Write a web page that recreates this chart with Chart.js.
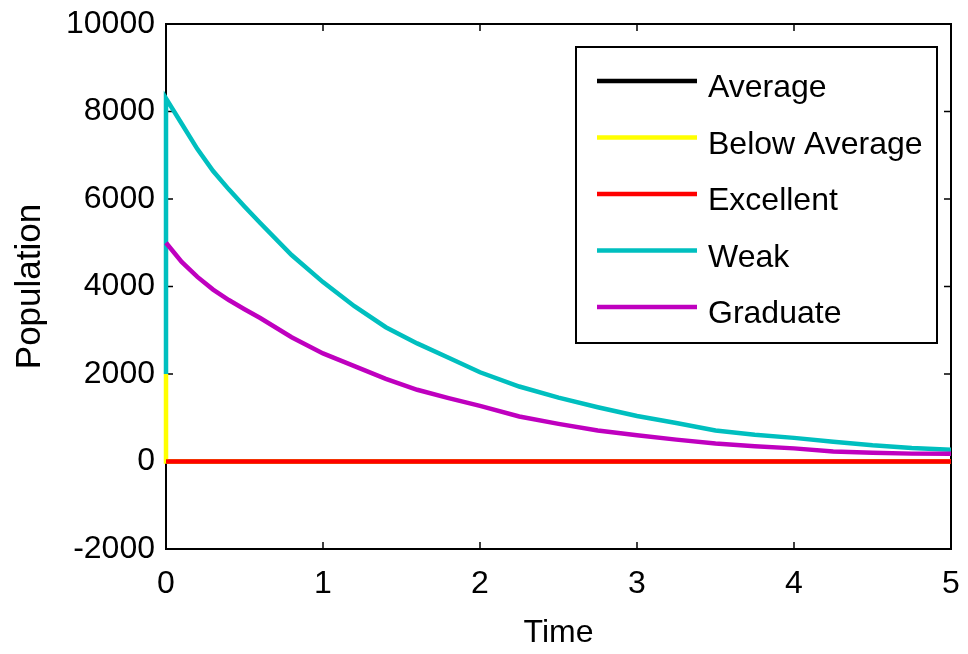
<!DOCTYPE html>
<html>
<head>
<meta charset="utf-8">
<script src="https://cdn.jsdelivr.net/npm/chart.js@4"></script>
<style>
  body { margin: 0; background: #fff; }
  #wrap { width: 968px; height: 654px; }
</style>
</head>
<body>
<div id="wrap"><canvas id="chart" width="968" height="654"></canvas></div>
<script>
// values (time in years, population)
var time = [0, 0, 0.1, 0.2, 0.3, 0.4, 0.5, 0.6, 0.8, 1.0, 1.2, 1.4, 1.6, 1.8, 2.0,
  2.25, 2.5, 2.75, 3.0, 3.25, 3.5, 3.75, 4.0, 4.25, 4.5, 4.75, 5.0];

var average = [0, 0, 0, 0, 0, 0, 0, 0, 0, 0, 0, 0, 0, 0, 0,
  0, 0, 0, 0, 0, 0, 0, 0, 0, 0, 0, 0];
var belowAverage = [2000, 0, 0, 0, 0, 0, 0, 0, 0, 0, 0, 0, 0, 0, 0,
  0, 0, 0, 0, 0, 0, 0, 0, 0, 0, 0, 0];
var excellent = [0, 0, 0, 0, 0, 0, 0, 0, 0, 0, 0, 0, 0, 0, 0,
  0, 0, 0, 0, 0, 0, 0, 0, 0, 0, 0, 0];
var weak = [2000, 8300, 7720, 7140, 6640, 6220, 5830, 5450, 4720, 4100, 3550, 3070, 2700, 2370, 2040,
  1714, 1460, 1240, 1040, 880, 710, 612, 540, 450, 370, 310, 270];
var graduate = [5000, 5000, 4560, 4220, 3930, 3690, 3480, 3280, 2840, 2470, 2180, 1890, 1640, 1450, 1270,
  1030, 860, 710, 600, 500, 410, 350, 300, 230, 200, 180, 175];

var seriesNames = ['Average', 'Below Average', 'Excellent', 'Weak', 'Graduate'];
var seriesColors = ['#000000', '#ffff00', '#ff0000', '#00bfbf', '#bf00bf'];
var seriesValues = [average, belowAverage, excellent, weak, graduate];

var yTicks = [-2000, 0, 2000, 4000, 6000, 8000, 10000];
var xTicks = [0, 1, 2, 3, 4, 5];

var FONT = { family: 'Liberation Sans, Arial, sans-serif', size: 32 };

function toPoints(values) {
  return values.map(function (v, i) { return { x: time[i], y: v }; });
}

var datasets = seriesValues.map(function (vals, i) {
  return {
    label: seriesNames[i],
    data: toPoints(vals),
    borderColor: seriesColors[i],
    backgroundColor: seriesColors[i],
    borderWidth: 4.5,
    pointRadius: 0,
    tension: 0,
    fill: false,
    clip: { left: 4, right: 0, top: 0, bottom: 0 },
    order: seriesNames.length - i  // later series drawn on top, like matlab
  };
});

// box around the plot with inward ticks on all four sides (under the lines)
var matlabFrame = {
  id: 'matlabFrame',
  beforeDatasetsDraw: function (chart) {
    var ctx = chart.ctx;
    var a = chart.chartArea;
    var xs = chart.scales.x, ys = chart.scales.y;
    var tl = 7;
    ctx.save();
    ctx.strokeStyle = '#000';
    ctx.lineWidth = 1.5;
    ctx.beginPath();
    xTicks.forEach(function (t) {
      var px = xs.getPixelForValue(t);
      ctx.moveTo(px, a.bottom); ctx.lineTo(px, a.bottom - tl);
      ctx.moveTo(px, a.top); ctx.lineTo(px, a.top + tl);
    });
    yTicks.forEach(function (t) {
      var py = ys.getPixelForValue(t);
      ctx.moveTo(a.left, py); ctx.lineTo(a.left + tl, py);
      ctx.moveTo(a.right, py); ctx.lineTo(a.right - tl, py);
    });
    ctx.stroke();
    ctx.lineWidth = 2;
    ctx.strokeRect(a.left, a.top, a.right - a.left, a.bottom - a.top);
    ctx.restore();
  },
  // legend box in the top right corner
  afterDatasetsDraw: function (chart) {
    var ctx = chart.ctx;
    var a = chart.chartArea;
    var bx = a.right - 375, by = a.top + 23, bw = 361, bh = 296;
    ctx.save();
    ctx.fillStyle = '#fff';
    ctx.fillRect(bx, by, bw, bh);
    ctx.strokeStyle = '#000';
    ctx.lineWidth = 2;
    ctx.strokeRect(bx, by, bw, bh);
    ctx.font = FONT.size + 'px ' + FONT.family;
    ctx.textAlign = 'left';
    ctx.textBaseline = 'alphabetic';
    chart.data.datasets.forEach(function (ds, i) {
      var ly = by + 34 + i * 56.5;
      ctx.strokeStyle = ds.borderColor;
      ctx.lineWidth = 4.5;
      ctx.beginPath();
      ctx.moveTo(bx + 21, ly);
      ctx.lineTo(bx + 121, ly);
      ctx.stroke();
      ctx.fillStyle = '#000';
      ctx.fillText(ds.label, bx + 132, ly + 16);
    });
    ctx.restore();
  }
};

new Chart(document.getElementById('chart'), {
  type: 'line',
  data: { datasets: datasets },
  options: {
    responsive: false,
    animation: false,
    layout: { padding: { top: 24, right: 17, left: 0, bottom: 0 } },
    plugins: {
      legend: { display: false },
      tooltip: { enabled: false }
    },
    scales: {
      x: {
        type: 'linear',
        min: 0,
        max: 5,
        afterBuildTicks: function (scale) {
          scale.ticks = xTicks.map(function (v) { return { value: v }; });
        },
        afterFit: function (scale) {
          scale.height = 105;
          scale.paddingLeft = 0;
          scale.paddingRight = 0;
        },
        grid: { display: false, drawTicks: false },
        border: { display: false },
        ticks: {
          color: '#000',
          font: FONT,
          padding: 16,
          maxRotation: 0,
          callback: function (v) { return String(v); }
        },
        title: {
          display: true,
          text: 'Time',
          color: '#000',
          font: FONT,
          padding: { top: 0, bottom: 2 }
        }
      },
      y: {
        type: 'linear',
        min: -2000,
        max: 10000,
        afterBuildTicks: function (scale) {
          scale.ticks = yTicks.map(function (v) { return { value: v }; });
        },
        afterFit: function (scale) {
          scale.width = 166;
          scale.paddingTop = 0;
          scale.paddingBottom = 0;
        },
        grid: { display: false, drawTicks: false },
        border: { display: false },
        ticks: {
          color: '#000',
          font: FONT,
          padding: 11,
          callback: function (v) { return String(v); }
        },
        title: {
          display: true,
          text: 'Population',
          color: '#000',
          font: { family: FONT.family, size: 35 },
          padding: { top: 9, bottom: 0 }
        }
      }
    }
  },
  plugins: [matlabFrame]
});
</script>
</body>
</html>
